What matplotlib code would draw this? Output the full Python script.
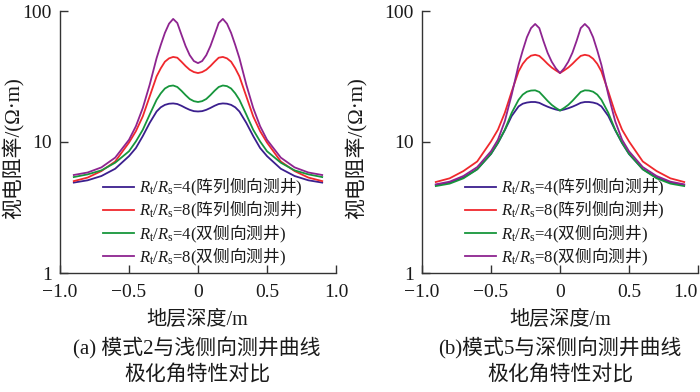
import matplotlib
matplotlib.use("Agg")
import matplotlib.pyplot as plt

plt.rcParams['font.family'] = ['Liberation Serif', 'Noto Sans CJK SC']
plt.rcParams['mathtext.fontset'] = 'custom'
plt.rcParams['mathtext.rm'] = 'Noto Sans CJK SC'
plt.rcParams['mathtext.sf'] = 'Liberation Serif'
plt.rcParams['mathtext.it'] = 'Liberation Serif:italic'
plt.rcParams['axes.unicode_minus'] = True

depth = [-0.9, -0.8, -0.7, -0.6, -0.5, -0.45, -0.4, -0.35, -0.3, -0.27, -0.24, -0.21, -0.18,
         -0.15, -0.12, -0.09, -0.06, -0.03, 0.0, 0.03, 0.06, 0.09, 0.12, 0.15, 0.18, 0.21,
         0.24, 0.27, 0.3, 0.35, 0.4, 0.45, 0.5, 0.6, 0.7, 0.8, 0.9]

# panel (a)
a_blue = [4.9, 5.1, 5.5, 6.25, 7.8, 9.0, 11.1, 14.0, 17.1, 18.4, 19.2, 19.6, 19.7,
          19.5, 18.9, 18.2, 17.6, 17.2, 17.1, 17.2, 17.6, 18.2, 18.9, 19.5, 19.7, 19.6,
          19.2, 18.4, 17.1, 14.0, 11.1, 9.0, 7.8, 6.25, 5.5, 5.1, 4.9]
a_red = [5.03, 5.35, 6.0, 7.1, 9.9, 12.1, 15.7, 22.3, 31.7, 36.5, 41.0, 43.5, 44.6,
         44.0, 41.0, 38.0, 35.6, 34.2, 33.6, 34.2, 35.6, 38.0, 41.0, 44.0, 44.6, 43.5,
         41.0, 36.5, 31.7, 22.3, 15.7, 12.1, 9.9, 7.1, 6.0, 5.35, 5.03]
a_green = [5.4, 5.66, 6.07, 6.95, 8.5, 10.1, 12.4, 16.2, 21.0, 23.5, 25.6, 26.7, 27.0,
           26.3, 24.6, 22.8, 21.3, 20.5, 20.2, 20.5, 21.3, 22.8, 24.6, 26.3, 27.0, 26.7,
           25.6, 23.5, 21.0, 16.2, 12.4, 10.1, 8.5, 6.95, 6.07, 5.66, 5.4]
a_purple = [5.6, 5.85, 6.4, 7.6, 10.4, 13.2, 18.2, 27.4, 43.7, 55.0, 68.0, 80.0, 87.0,
            81.0, 66.0, 54.0, 46.0, 41.5, 40.0, 41.5, 46.0, 54.0, 66.0, 81.0, 87.0, 80.0,
            68.0, 55.0, 43.7, 27.4, 18.2, 13.2, 10.4, 7.6, 6.4, 5.85, 5.6]

# panel (b)
b_blue = [4.7, 4.9, 5.35, 6.2, 8.1, 9.8, 12.3, 15.8, 18.7, 19.6, 20.0, 20.2, 20.2,
          19.9, 19.2, 18.6, 18.1, 17.7, 17.4, 17.7, 18.1, 18.6, 19.2, 19.9, 20.2, 20.2,
          20.0, 19.6, 18.7, 15.8, 12.3, 9.8, 8.1, 6.2, 5.35, 4.9, 4.7]
b_red = [4.95, 5.28, 6.0, 7.1, 10.1, 12.4, 16.7, 24.3, 34.6, 39.5, 43.2, 45.6, 46.3,
         45.4, 42.5, 39.5, 37.0, 35.2, 33.6, 35.2, 37.0, 39.5, 42.5, 45.4, 46.3, 45.6,
         43.2, 39.5, 34.6, 24.3, 16.7, 12.4, 10.1, 7.1, 6.0, 5.28, 4.95]
b_green = [4.61, 4.81, 5.28, 6.18, 8.13, 9.86, 12.4, 16.7, 21.0, 23.0, 24.2, 24.7, 24.8,
           24.1, 22.3, 20.6, 19.2, 18.2, 17.4, 18.2, 19.2, 20.6, 22.3, 24.1, 24.8, 24.7,
           24.2, 23.0, 21.0, 16.7, 12.4, 9.86, 8.13, 6.18, 5.28, 4.81, 4.61]
b_purple = [4.75, 4.98, 5.5, 6.43, 8.5, 10.4, 14.4, 23.0, 38.8, 50.0, 63.0, 74.0, 79.6,
            74.0, 59.0, 48.0, 41.0, 36.5, 33.6, 36.5, 41.0, 48.0, 59.0, 74.0, 79.6, 74.0,
            63.0, 50.0, 38.8, 23.0, 14.4, 10.4, 8.5, 6.43, 5.5, 4.98, 4.75]

labels = [r'$R_\mathsf{t}\mathsf{/}R_\mathsf{s}$=4($\mathrm{阵列侧向测井}$)',
          r'$R_\mathsf{t}\mathsf{/}R_\mathsf{s}$=8($\mathrm{阵列侧向测井}$)',
          r'$R_\mathsf{t}\mathsf{/}R_\mathsf{s}$=4($\mathrm{双侧向测井}$)',
          r'$R_\mathsf{t}\mathsf{/}R_\mathsf{s}$=8($\mathrm{双侧向测井}$)']
colors = ['#3b1f8e', '#f0282d', '#17963c', '#8e2490']
xticks = [-1.0, -0.5, 0, 0.5, 1.0]
xticklabels = ['−1.0', '−0.5', '0', '0.5', '1.0']
yticks = [1, 10, 100]
yticklabels = ['1', '10', '100']
ylabel = '视电阻率/(Ω·m)'
xlabel = '地层深度/m'
captions = [['(a) 模式2与浅侧向测井曲线', '极化角特性对比'],
            ['(b)模式5与深侧向测井曲线', '极化角特性对比']]

fig = plt.figure(figsize=(7.0, 3.92), dpi=100)
axes_rects = [[60 / 700, 1 - 273 / 392, 276 / 700, 262 / 392],
              [422 / 700, 1 - 273 / 392, 276 / 700, 262 / 392]]
series = [[a_blue, a_red, a_green, a_purple], [b_blue, b_red, b_green, b_purple]]
ylabel_x = [13 / 700, 356 / 700]
centers = [197 / 700, 560 / 700]

for i in range(2):
    ax = fig.add_axes(axes_rects[i])
    for ys, c, lab in zip(series[i], colors, labels):
        ax.plot(depth, ys, color=c, lw=1.3, label=lab)
    ax.set_yscale('log')
    ax.set_xlim(-1.0, 1.0)
    ax.set_ylim(1, 100)
    ax.set_xticks(xticks)
    ax.set_xticklabels(xticklabels)
    ax.set_yticks(yticks)
    ax.set_yticklabels(yticklabels)
    ax.yaxis.set_minor_locator(matplotlib.ticker.NullLocator())
    ax.tick_params(axis='both', direction='in', length=6, width=1.0, colors='#333333',
                   labelsize=14, labelcolor='#1a1a1a')
    ax.tick_params(axis='x', pad=8)
    ax.tick_params(axis='y', pad=6)
    if i == 1:
        ax.get_xticklabels()[-1].set_horizontalalignment('right')
        ax.get_xticklabels()[-1].set_x(1.02)
    for s in ['top', 'right']:
        ax.spines[s].set_visible(False)
    for s in ['left', 'bottom']:
        ax.spines[s].set_color('#333333')
        ax.spines[s].set_linewidth(1.0)
    ax.set_facecolor('none')
    leg = ax.legend(loc='lower left', bbox_to_anchor=(0.155, 0.02), frameon=False,
                    fontsize=12, handlelength=1.9, handletextpad=0.25,
                    labelspacing=0.06, borderaxespad=0, borderpad=0)
    for t in leg.get_texts():
        t.set_color('#1a1a1a')
    fig.text(ylabel_x[i], 1 - 148 / 392, ylabel, rotation=90, ha='center', va='center',
             fontsize=15, color='#1a1a1a')
    fig.text(centers[i], 1 - 320 / 392, xlabel, ha='center', va='center',
             fontsize=14.5, color='#1a1a1a')
    fig.text(centers[i], 1 - 348 / 392, captions[i][0], ha='center', va='center',
             fontsize=15, color='#1a1a1a')
    fig.text(centers[i], 1 - 375 / 392, captions[i][1], ha='center', va='center',
             fontsize=15, color='#1a1a1a')

fig.savefig('out.png', dpi=100)
